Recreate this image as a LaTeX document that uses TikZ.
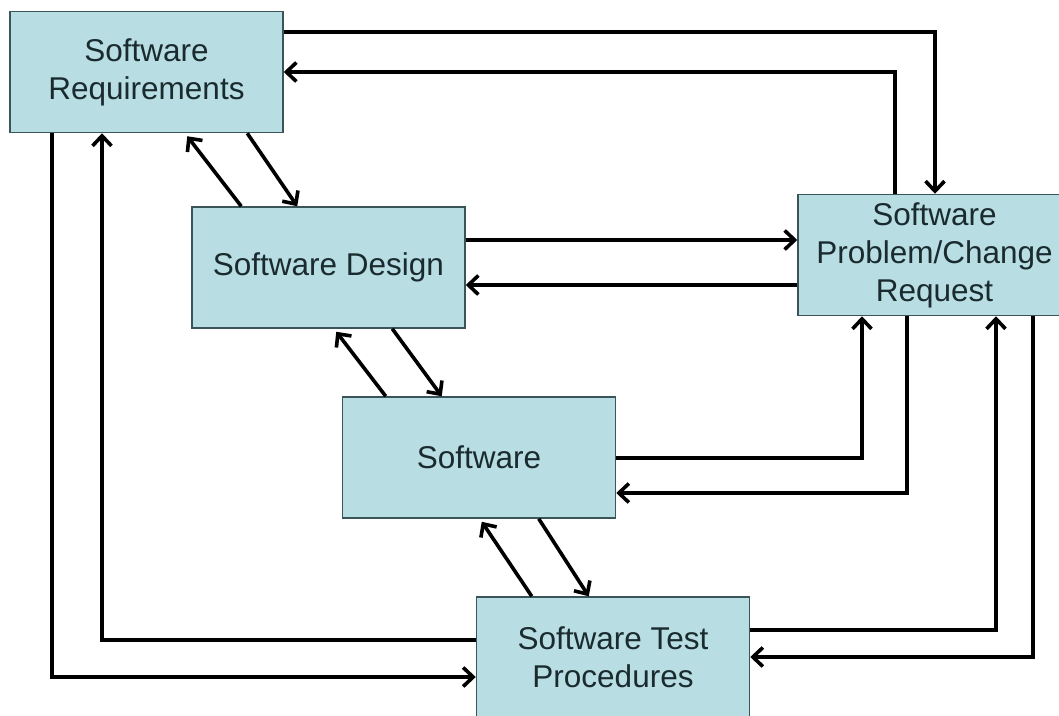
\documentclass[tikz,border=0pt]{standalone}
\usepackage{fontspec}
\setmainfont{Liberation Sans}
\usetikzlibrary{arrows.meta,calc}
\definecolor{boxfill}{HTML}{B8DDE2}
\definecolor{boxline}{HTML}{3A5559}
\definecolor{textcol}{HTML}{1A2B2F}
\begin{document}
\begin{tikzpicture}[x=1pt,y=-1pt,
  box/.style={draw=boxline, fill=boxfill, line width=1.5pt, minimum width=273pt, minimum height=121pt,
    inner sep=0pt, align=center, text=textcol, font=\fontsize{31.5}{38}\selectfont},
  conn/.style={line width=3.6pt, line join=miter, -{Straight Barb[length=10pt,width=19pt,line width=3.6pt]}}]
\useasboundingbox (0,0) rectangle (1059,715);
\clip (0,0) rectangle (1059,715);
\fill[white] (0,0) rectangle (1059,715);

\node[box] (Req) at (146.5,72) {Software\\Requirements};
\node[box] (Des) at (328.5,267.5) {Software Design};
\node[box] (PCR) at (934.5,255) {Software\\Problem/Change\\Request};
\node[box] (Sw)  at (479,457.5) {Software};
\node[box] (Test) at (613,657.5) {Software Test\\Procedures};

% helper coordinates for routing
\coordinate (h1) at (935,32);
\coordinate (h2) at (895,72);
\coordinate (h3) at (862,458);
\coordinate (h4) at (907,493);
\coordinate (h5) at (996,630);
\coordinate (h6) at (1033,657);
\coordinate (h7) at (52,677);
\coordinate (h8) at (102,640);
\coordinate (h9) at (0,240);
\coordinate (h10) at (0,285);

% Requirements <-> Problem/Change Request
\draw[conn] (Req.east |- h1) -| (PCR.north -| h1);
\draw[conn] (PCR.north -| h2) |- (Req.east |- h2);

% Requirements <-> Design
\draw[conn] ($(Req.south west)+(238,0)$) -- ($(Des.north west)+(106,0)$);
\draw[conn] ($(Des.north west)+(50,0)$) -- ($(Req.south west)+(178,3)$);

% Design <-> Software
\draw[conn] ($(Des.south west)+(201,0)$) -- ($(Sw.north west)+(100,0)$);
\draw[conn] ($(Sw.north west)+(44,0)$) -- ($(Des.south west)+(145,3)$);

% Software <-> Test
\draw[conn] ($(Sw.south west)+(197,0)$) -- ($(Test.north west)+(113,0)$);
\draw[conn] ($(Test.north west)+(56,0)$) -- ($(Sw.south west)+(140,3)$);

% Design <-> PCR
\draw[conn] (Des.east |- h9) -- (PCR.west |- h9);
\draw[conn] (PCR.west |- h10) -- (Des.east |- h10);

% Software <-> PCR
\draw[conn] (Sw.east |- h3) -| (PCR.south -| h3);
\draw[conn] (PCR.south -| h4) |- (Sw.east |- h4);

% Test <-> PCR
\draw[conn] (Test.east |- h5) -| (PCR.south -| h5);
\draw[conn] (PCR.south -| h6) |- (Test.east |- h6);

% Requirements <-> Test
\draw[conn] (Req.south -| h7) |- (Test.west |- h7);
\draw[conn] (Test.west |- h8) -| (Req.south -| h8);
\end{tikzpicture}
\end{document}
